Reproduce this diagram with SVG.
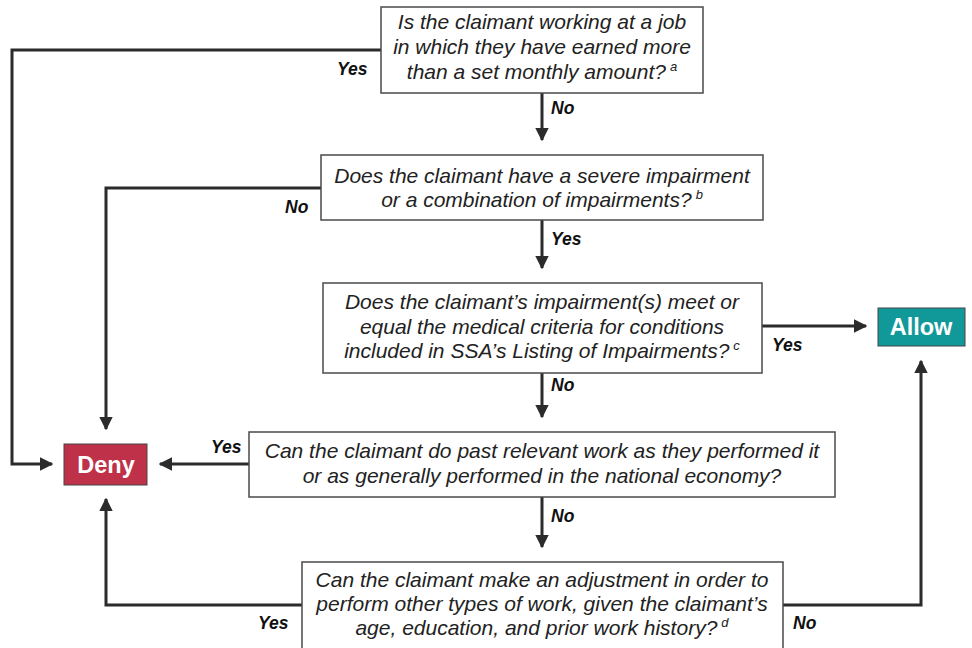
<svg xmlns="http://www.w3.org/2000/svg" width="972" height="648" viewBox="0 0 972 648">
<defs>
<style>
.box{fill:#fff;stroke:#4a4a4a;stroke-width:1.5}
.q{font-family:"Liberation Sans",Arial,sans-serif;font-style:italic;font-size:21px;fill:#222;text-anchor:middle}
.sup{font-size:13px}
.lbl{font-family:"Liberation Sans",Arial,sans-serif;font-style:italic;font-weight:bold;font-size:17.5px;fill:#111}
.out{font-family:"Liberation Sans",Arial,sans-serif;font-weight:bold;font-size:23.5px;fill:#fff;text-anchor:middle}
.con{fill:none;stroke:#2b2b2b;stroke-width:3;marker-end:url(#ah)}
</style>
<marker id="ah" viewBox="0 0 10 10" refX="9" refY="5" markerWidth="4.5" markerHeight="4.5" orient="auto" markerUnits="strokeWidth">
<path d="M0,0 L10,5 L0,10 z" fill="#2b2b2b"/>
</marker>
</defs>
<rect width="972" height="648" fill="#fff"/>
<g id="connectors">
<polyline class="con" points="381,50 12,50 12,464 52,464"/>
<polyline class="con" points="321,188 106,188 106,429"/>
<line class="con" x1="542" y1="93" x2="542" y2="140"/>
<line class="con" x1="542" y1="220" x2="542" y2="268"/>
<line class="con" x1="762" y1="326" x2="866" y2="326"/>
<line class="con" x1="542" y1="373" x2="542" y2="417"/>
<line class="con" x1="249" y1="464" x2="160" y2="464"/>
<line class="con" x1="542" y1="497" x2="542" y2="547"/>
<polyline class="con" points="302,605 106,605 106,499"/>
<polyline class="con" points="783,605 921,605 921,361"/>
<text class="lbl" x="337" y="75">Yes</text>
<text class="lbl" x="551" y="114">No</text>
<text class="lbl" x="285" y="213">No</text>
<text class="lbl" x="551" y="245">Yes</text>
<text class="lbl" x="772" y="351">Yes</text>
<text class="lbl" x="551" y="391">No</text>
<text class="lbl" x="211" y="453">Yes</text>
<text class="lbl" x="551" y="522">No</text>
<text class="lbl" x="258" y="629">Yes</text>
<text class="lbl" x="793" y="629">No</text>
</g>
<g id="q1">
<rect class="box" x="381" y="7" width="322" height="86"/>
<text class="q" x="542" y="29">Is the claimant working at a job</text>
<text class="q" x="542" y="54">in which they have earned more</text>
<text class="q" x="542" y="79">than a set monthly amount?<tspan class="sup" dx="4" dy="-8">a</tspan></text>
</g>
<g id="q2">
<rect class="box" x="321" y="155" width="442" height="65"/>
<text class="q" x="542" y="183">Does the claimant have a severe impairment</text>
<text class="q" x="542" y="207">or a combination of impairments?<tspan class="sup" dx="4" dy="-8">b</tspan></text>
</g>
<g id="q3">
<rect class="box" x="323" y="283" width="439" height="90"/>
<text class="q" x="542" y="309">Does the claimant’s impairment(s) meet or</text>
<text class="q" x="542" y="334">equal the medical criteria for conditions</text>
<text class="q" x="542" y="358">included in SSA’s Listing of Impairments?<tspan class="sup" dx="4" dy="-8">c</tspan></text>
</g>
<g id="q4">
<rect class="box" x="249" y="432" width="586" height="65"/>
<text class="q" x="542" y="458">Can the claimant do past relevant work as they performed it</text>
<text class="q" x="542" y="483">or as generally performed in the national economy?</text>
</g>
<g id="q5">
<rect class="box" x="302" y="562" width="481" height="100"/>
<text class="q" x="542" y="587">Can the claimant make an adjustment in order to</text>
<text class="q" x="542" y="611">perform other types of work, given the claimant’s</text>
<text class="q" x="542" y="635">age, education, and prior work history?<tspan class="sup" dx="4" dy="-8">d</tspan></text>
</g>
<g id="deny">
<rect x="64" y="444" width="83" height="41" fill="#BE3148" stroke="#444" stroke-width="1"/>
<text class="out" x="106" y="473">Deny</text>
</g>
<g id="allow">
<rect x="878" y="308" width="87" height="38" fill="#11999A" stroke="#444" stroke-width="1"/>
<text class="out" x="921" y="335">Allow</text>
</g>
</svg>
